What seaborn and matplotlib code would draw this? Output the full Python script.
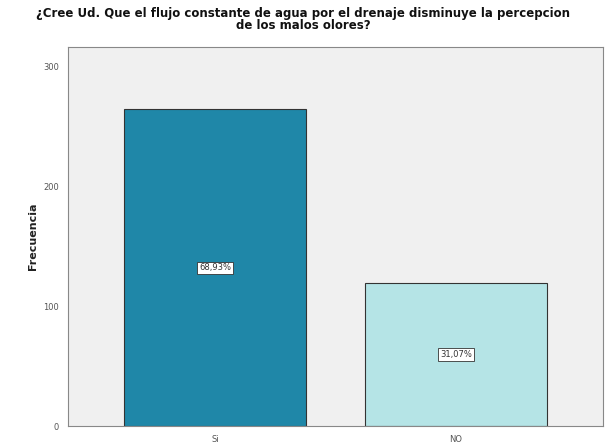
import pandas as pd
import seaborn as sns
import matplotlib.pyplot as plt

categorias = ['Si', 'NO']
frecuencias = [264, 119]
porcentajes = ['68,93%', '31,07%']
colores = ['#1f87a8', '#b5e4e6']

df = pd.DataFrame({'respuesta': categorias, 'frecuencia': frecuencias})

sns.set_style('white')
fig = plt.figure(figsize=(6.06, 4.43), dpi=100)
ax = fig.add_axes([68 / 606, 1 - 426 / 443, 535 / 606, 379 / 443])
ax.set_facecolor('#f0f0f0')

sns.barplot(data=df, x='respuesta', y='frecuencia', hue='respuesta',
            palette=colores, saturation=1, width=0.755, edgecolor='#333333',
            linewidth=0.8, legend=False, ax=ax)

for i, (v, p) in enumerate(zip(frecuencias, porcentajes)):
    ax.text(i, v / 2, p, ha='center', va='center', fontsize=6, color='#333333',
            bbox=dict(boxstyle='square,pad=0.2', fc='white', ec='#333333', lw=0.6))

ax.set_xlim(-0.61, 1.61)
ax.set_ylim(0, 316)
ax.set_yticks([0, 100, 200, 300])
ax.set_xlabel('')
ax.set_ylabel('Frecuencia', fontsize=8, fontweight='bold', color='#222222')
ax.tick_params(axis='both', labelsize=6, colors='#555555', length=3, width=0.8)
for s in ax.spines.values():
    s.set_color('#888888')
    s.set_linewidth(0.8)

fig.suptitle('¿Cree Ud. Que el flujo constante de agua por el drenaje disminuye la percepcion\nde los malos olores?',
             x=0.5, y=0.985, fontsize=8.5, fontweight='bold', color='#111111', linespacing=0.95)

fig.savefig('out.png', dpi=100)
